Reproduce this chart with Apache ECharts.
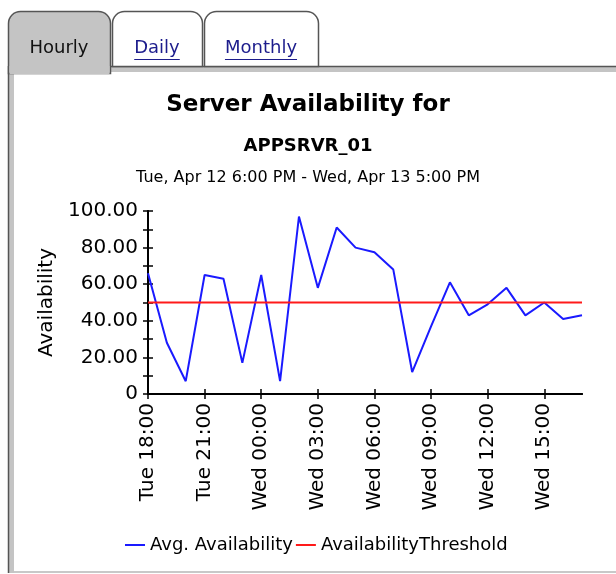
<!DOCTYPE html>
<html>
<head>
<meta charset="utf-8">
<script src="https://cdn.jsdelivr.net/npm/echarts@6/dist/echarts.min.js"></script>
<style>
  html, body { margin: 0; padding: 0; background: #fff; }
  #chart { width: 616px; height: 574px; }
</style>
</head>
<body>
<div id="chart"></div>
<script>
const hours = [
  'Tue 18:00', 'Tue 19:00', 'Tue 20:00', 'Tue 21:00', 'Tue 22:00', 'Tue 23:00',
  'Wed 00:00', 'Wed 01:00', 'Wed 02:00', 'Wed 03:00', 'Wed 04:00', 'Wed 05:00',
  'Wed 06:00', 'Wed 07:00', 'Wed 08:00', 'Wed 09:00', 'Wed 10:00', 'Wed 11:00',
  'Wed 12:00', 'Wed 13:00', 'Wed 14:00', 'Wed 15:00', 'Wed 16:00', 'Wed 17:00'
]
const avgAvailability = [
  66, 28, 7, 65, 63, 17, 65, 7, 97, 58, 91, 80,
  77.5, 68, 12, 37, 61, 43, 49, 58, 43, 50, 41, 43
]
const availabilityThreshold = [
  50, 50, 50, 50, 50, 50, 50, 50, 50, 50, 50, 50,
  50, 50, 50, 50, 50, 50, 50, 50, 50, 50, 50, 50
]
const tabNames = ['Hourly', 'Daily', 'Monthly']

const FONT = 'DejaVu Sans'
const chart = echarts.init(document.getElementById('chart'))

// measure tab text so the underline fits it
const ctx = document.createElement('canvas').getContext('2d')
ctx.font = '18px ' + FONT

// tabs + panel frame
const tabBoxes = [
  { x: 8, w: 102 },
  { x: 112, w: 90 },
  { x: 204, w: 114 }
]
const frame = [
  { type: 'rect', z: -10, shape: { x: 8, y: 66, width: 620, height: 507 }, style: { fill: '#c4c4c4' } },
  { type: 'rect', z: -9, shape: { x: 14, y: 72, width: 610, height: 499 }, style: { fill: '#fff' } },
  { type: 'line', z: -8, shape: { x1: 8.5, y1: 66, x2: 8.5, y2: 573 }, style: { stroke: '#555', lineWidth: 1.5 } },
  { type: 'line', z: -8, shape: { x1: 110, y1: 66.5, x2: 616, y2: 66.5 }, style: { stroke: '#555', lineWidth: 1.5 } },
  { type: 'line', z: -8, shape: { x1: 14, y1: 572, x2: 616, y2: 572 }, style: { stroke: '#c8c8c8', lineWidth: 2 } }
]
tabNames.forEach((name, i) => {
  const b = tabBoxes[i]
  const active = i === 0
  frame.push({
    type: 'rect', z: -7,
    shape: { x: b.x + 0.5, y: 11.5, width: b.w, height: active ? 62 : 55, r: [12, 12, 0, 0] },
    style: { fill: active ? '#c4c4c4' : '#fff', stroke: '#555', lineWidth: 1.5 }
  })
  if (active) {
    frame.push({ type: 'rect', z: -6, shape: { x: b.x + 1.5, y: 66, width: b.w - 2, height: 8 }, style: { fill: '#c4c4c4' } })
  }
  frame.push({
    type: 'text', z: -5, x: b.x + b.w / 2, y: 48,
    style: {
      text: name, font: '18px ' + FONT, fill: active ? '#111' : '#1c1c8c',
      textAlign: 'center', textVerticalAlign: 'middle'
    }
  })
  if (!active) {
    const tw = ctx.measureText(name).width
    frame.push({
      type: 'line', z: -5,
      shape: { x1: b.x + b.w / 2 - tw / 2, y1: 59.5, x2: b.x + b.w / 2 + tw / 2, y2: 59.5 },
      style: { stroke: '#1c1c8c', lineWidth: 1 }
    })
  }
})

const grid = { left: 148, right: 34, top: 211, bottom: 180 }
const axisLine = { show: true, lineStyle: { color: '#000', width: 2 } }
const tickStyle = { color: '#000', width: 1.5 }

chart.setOption({
  animation: false,
  backgroundColor: '#fff',
  graphic: frame,
  title: [
    { text: 'Server Availability for', left: 'center', top: 89, textStyle: { fontFamily: FONT, fontSize: 23, fontWeight: 'bold', color: '#000' } },
    { text: 'APPSRVR_01', left: 'center', top: 132, textStyle: { fontFamily: FONT, fontSize: 18, fontWeight: 'bold', color: '#000' } },
    { text: 'Tue, Apr 12 6:00 PM - Wed, Apr 13 5:00 PM', left: 'center', top: 165, textStyle: { fontFamily: FONT, fontSize: 16, fontWeight: 'normal', color: '#000' } }
  ],
  legend: {
    left: 120, top: 531,
    itemGap: 3, itemWidth: 20, itemHeight: 2, icon: 'rect',
    textStyle: { fontFamily: FONT, fontSize: 18, color: '#000' },
    data: ['Avg. Availability', 'AvailabilityThreshold']
  },
  grid: grid,
  xAxis: [
    {
      type: 'category', data: hours, boundaryGap: false,
      axisLine: axisLine,
      axisTick: { show: true, interval: 2, length: 5, lineStyle: tickStyle },
      axisLabel: { interval: 2, rotate: 90, margin: 9, fontFamily: FONT, fontSize: 20, color: '#000' },
      splitLine: { show: false }
    },
    {
      type: 'category', data: hours, boundaryGap: false, position: 'bottom',
      axisLine: axisLine,
      axisTick: { show: true, interval: 2, inside: true, length: 5, lineStyle: tickStyle },
      axisLabel: { show: false },
      splitLine: { show: false }
    }
  ],
  yAxis: [
    {
      type: 'value', min: 0, max: 100, interval: 10, position: 'left',
      name: 'Availability', nameLocation: 'middle', nameGap: 80, nameRotate: 90,
      nameTextStyle: { fontFamily: FONT, fontSize: 20, color: '#000' },
      axisLine: axisLine,
      axisTick: { show: true, length: 5, lineStyle: tickStyle },
      axisLabel: {
        margin: 10, fontFamily: FONT, fontSize: 20, color: '#000',
        formatter: v => v === 0 ? '0' : (v % 20 === 0 ? v.toFixed(2) : '')
      },
      splitLine: { show: false }
    },
    {
      type: 'value', min: 0, max: 100, interval: 10, position: 'left', offset: 0,
      axisLine: axisLine,
      axisTick: { show: true, inside: true, length: 5, lineStyle: tickStyle },
      axisLabel: { show: false },
      splitLine: { show: false }
    }
  ],
  series: [
    {
      name: 'Avg. Availability', type: 'line', data: avgAvailability,
      symbol: 'none', itemStyle: { color: '#1a1aff' },
      lineStyle: { color: '#1a1aff', width: 2 }
    },
    {
      name: 'AvailabilityThreshold', type: 'line', data: availabilityThreshold,
      symbol: 'none', itemStyle: { color: '#ff1a1a' },
      lineStyle: { color: '#ff1a1a', width: 2 }
    }
  ]
})
</script>
</body>
</html>
